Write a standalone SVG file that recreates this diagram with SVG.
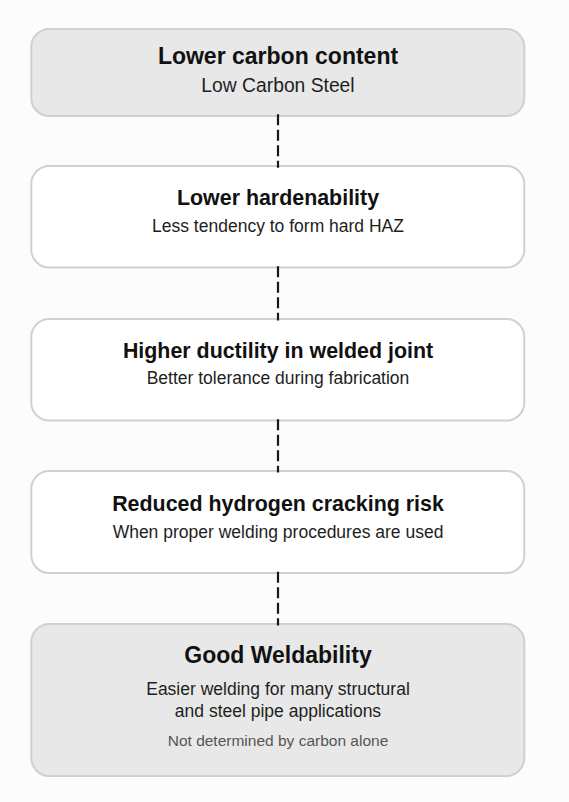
<svg xmlns="http://www.w3.org/2000/svg" width="569" height="802" viewBox="0 0 569 802">
<style>
.box{stroke:#d0d0d0;stroke-width:2}
.grey{fill:#e8e8e8}
.white{fill:#ffffff}
text{font-family:"Liberation Sans",Arial,sans-serif;text-anchor:middle}
.t{font-weight:bold;fill:#111111;font-size:21.4px}
.tb{font-weight:bold;fill:#111111;font-size:23px}
.s{fill:#1e1e1e;font-size:17.5px}
.n{fill:#555555;font-size:15.5px}
.conn{stroke:#1a1a1a;stroke-width:2.2;stroke-dasharray:11 4.5;fill:none}
</style>
<rect x="0" y="0" width="569" height="802" fill="#fcfcfc"/>
<g id="node1">
<rect class="box grey" x="31.3" y="29" width="493" height="87" rx="18"/>
<text class="tb" x="278" y="64">Lower carbon content</text>
<text class="s" x="278" y="91.5" style="font-size:19.3px">Low Carbon Steel</text>
</g>
<g id="node2">
<rect class="box white" x="31.3" y="166" width="493" height="101.5" rx="18"/>
<text class="t" x="278" y="205">Lower hardenability</text>
<text class="s" x="278" y="232.3">Less tendency to form hard HAZ</text>
</g>
<g id="node3">
<rect class="box white" x="31.3" y="319" width="493" height="101.5" rx="18"/>
<text class="t" x="278" y="358.3">Higher ductility in welded joint</text>
<text class="s" x="278" y="384.3">Better tolerance during fabrication</text>
</g>
<g id="node4">
<rect class="box white" x="31.3" y="471" width="493" height="102" rx="18"/>
<text class="t" x="278" y="511">Reduced hydrogen cracking risk</text>
<text class="s" x="278" y="537.7">When proper welding procedures are used</text>
</g>
<g id="node5">
<rect class="box grey" x="31.3" y="624" width="493" height="152" rx="18"/>
<text class="tb" x="278" y="663.3">Good Weldability</text>
<text class="s" x="278" y="695">Easier welding for many structural</text>
<text class="s" x="278" y="717.3">and steel pipe applications</text>
<text class="n" x="278" y="745.7">Not determined by carbon alone</text>
</g>
<g id="connectors">
<line class="conn" x1="278" y1="114.3" x2="278" y2="167.7"/>
<line class="conn" x1="278" y1="266.3" x2="278" y2="320.5"/>
<line class="conn" x1="278" y1="419.3" x2="278" y2="472.5"/>
<line class="conn" x1="278" y1="571.8" x2="278" y2="625.5"/>
</g>
</svg>
